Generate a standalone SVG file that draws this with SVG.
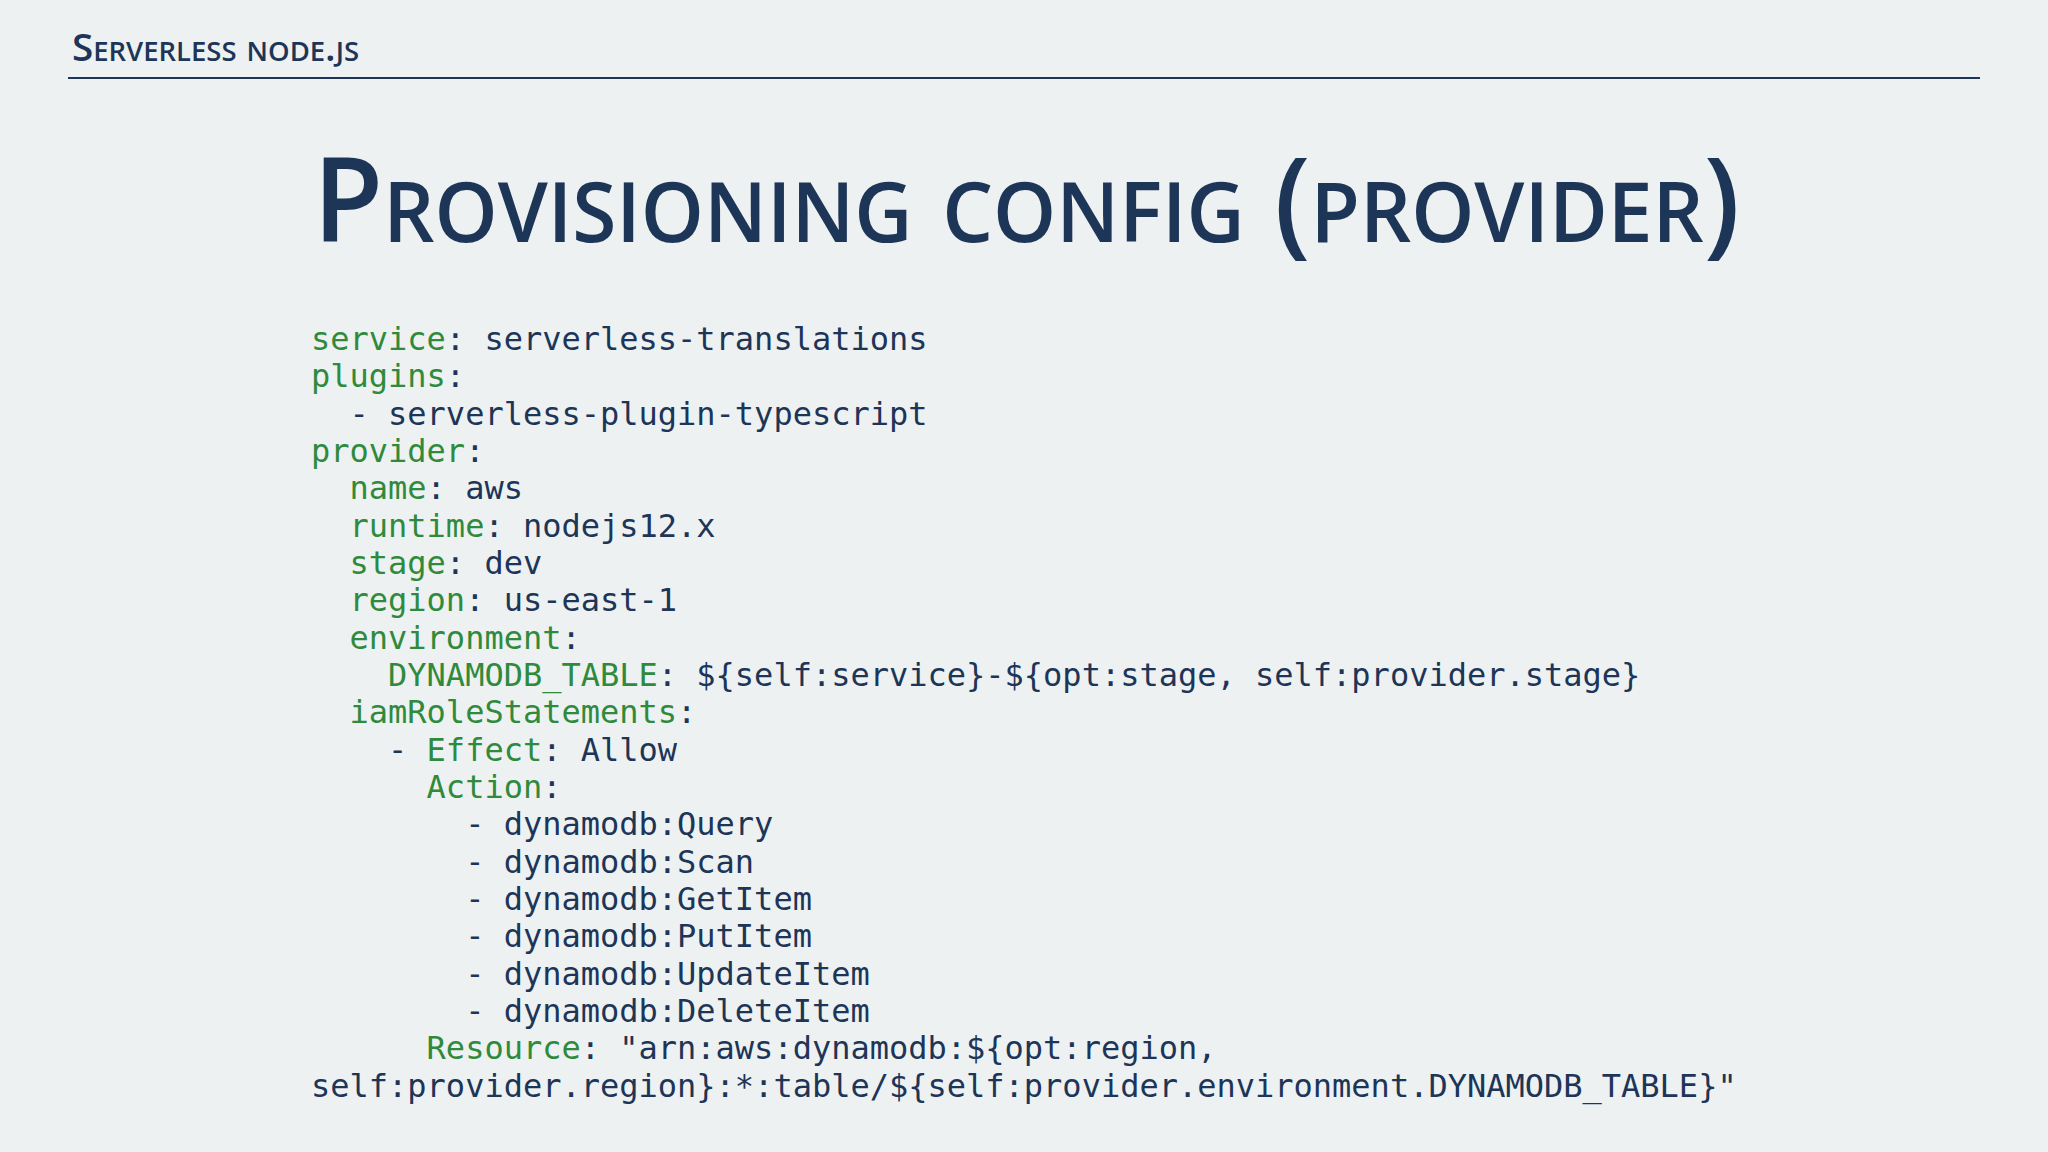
<svg xmlns="http://www.w3.org/2000/svg" width="2048" height="1152" viewBox="0 0 2048 1152">
<style>
.k{fill:#2f8a3c}
.v{fill:#1d3557}
.code{font-family:"DejaVu Sans Mono",monospace;font-size:32px;fill:#1d3557}
.hd{font-family:"Open Sans","Liberation Sans",sans-serif;fill:#1d3557;font-variant:small-caps}
</style>
<rect width="2048" height="1152" fill="#edf1f2"/>
<g id="header">
<text class="hd" x="72" y="61" font-size="38" font-weight="600" textLength="287" lengthAdjust="spacingAndGlyphs">Serverless node.js</text>
<line x1="68" y1="78" x2="1980" y2="78" stroke="#1d3557" stroke-width="2"/>
</g>
<g id="title">
<text class="hd" x="313" y="242" font-size="118" font-weight="600" textLength="1427" lengthAdjust="spacingAndGlyphs">Provisioning config (provider)</text>
</g>
<g id="code" transform="translate(0,3)">
<text class="code" xml:space="preserve">
<tspan x="311" y="347"><tspan class="k">service</tspan>: serverless-translations</tspan>
<tspan x="311" y="384"><tspan class="k">plugins</tspan>:</tspan>
<tspan x="311" y="422">  - serverless-plugin-typescript</tspan>
<tspan x="311" y="459"><tspan class="k">provider</tspan>:</tspan>
<tspan x="311" y="496">  <tspan class="k">name</tspan>: aws</tspan>
<tspan x="311" y="534">  <tspan class="k">runtime</tspan>: nodejs12.x</tspan>
<tspan x="311" y="571">  <tspan class="k">stage</tspan>: dev</tspan>
<tspan x="311" y="608">  <tspan class="k">region</tspan>: us-east-1</tspan>
<tspan x="311" y="646">  <tspan class="k">environment</tspan>:</tspan>
<tspan x="311" y="683">    <tspan class="k">DYNAMODB_TABLE</tspan>: ${self:service}-${opt:stage, self:provider.stage}</tspan>
<tspan x="311" y="720">  <tspan class="k">iamRoleStatements</tspan>:</tspan>
<tspan x="311" y="758">    - <tspan class="k">Effect</tspan>: Allow</tspan>
<tspan x="311" y="795">      <tspan class="k">Action</tspan>:</tspan>
<tspan x="311" y="832">        - dynamodb:Query</tspan>
<tspan x="311" y="870">        - dynamodb:Scan</tspan>
<tspan x="311" y="907">        - dynamodb:GetItem</tspan>
<tspan x="311" y="944">        - dynamodb:PutItem</tspan>
<tspan x="311" y="982">        - dynamodb:UpdateItem</tspan>
<tspan x="311" y="1019">        - dynamodb:DeleteItem</tspan>
<tspan x="311" y="1056">      <tspan class="k">Resource</tspan>: "arn:aws:dynamodb:${opt:region,</tspan>
<tspan x="311" y="1094">self:provider.region}:*:table/${self:provider.environment.DYNAMODB_TABLE}"</tspan>
</text>
</g>
</svg>
